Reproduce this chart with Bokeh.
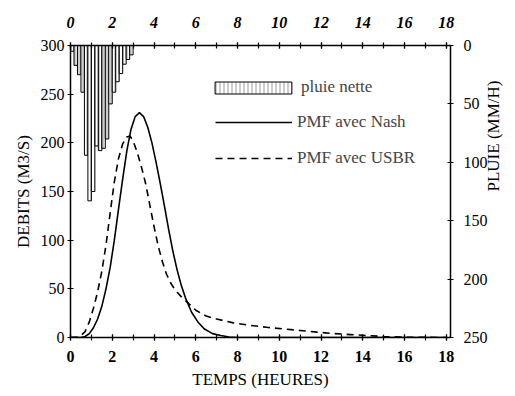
import math
from bokeh.plotting import figure
from bokeh.models import Range1d, LinearAxis, FixedTicker, Legend, LegendItem
from bokeh.embed import file_html
from bokeh.resources import INLINE

# ---- data ----
# net rainfall hyetograph, 10-minute blocks (hours), intensity in mm/h
rain_start = [0.0, 0.167, 0.333, 0.5, 0.667, 0.833, 1.0, 1.167, 1.333,
              1.5, 1.667, 1.833, 2.0, 2.167, 2.333, 2.5, 2.667, 2.833]
rain_end = [0.167, 0.333, 0.5, 0.667, 0.833, 1.0, 1.167, 1.333, 1.5,
            1.667, 1.833, 2.0, 2.167, 2.333, 2.5, 2.667, 2.833, 3.0]
rain_mmh = [5, 17, 25, 40, 94, 133, 125, 86, 90, 88, 80, 50, 40, 31, 24, 16, 12, 8]

# PMF hydrograph, Nash model (hours, m3/s)
t_nash = [0.0, 0.5, 0.7, 0.9, 1.1, 1.3, 1.5, 1.7, 1.9, 2.1, 2.3, 2.5, 2.7,
          2.9, 3.1, 3.3, 3.5, 3.7, 3.9, 4.1, 4.3, 4.5, 4.7, 4.9, 5.1, 5.3,
          5.5, 5.8, 6.1, 6.4, 6.8, 7.2, 7.6, 8.0, 18.0]
q_nash = [0, 0, 1, 4, 10, 19, 32, 50, 72, 100, 132, 163, 192,
          214, 227, 231, 227, 216, 200, 180, 158, 135, 111, 89, 70, 54,
          41, 26, 16, 9, 4, 2, 0.5, 0, 0]

# PMF hydrograph, USBR model (hours, m3/s)
t_usbr = [0.0, 0.3, 0.5, 0.7, 0.9, 1.1, 1.3, 1.5, 1.7, 1.9, 2.1, 2.3, 2.5,
          2.7, 2.85, 3.0, 3.2, 3.4, 3.6, 3.8, 4.0, 4.2, 4.4, 4.6, 4.8, 5.0,
          5.3, 5.6, 6.0, 6.5, 7.0, 7.8, 8.6, 9.4, 10.2, 11.0, 11.8, 12.6,
          13.4, 14.2, 15.0, 16.0, 18.0]
q_usbr = [0, 0.5, 2, 6, 16, 30, 47, 68, 95, 128, 160, 184, 199,
          206, 207, 202, 190, 175, 158, 136, 114, 94, 78, 65, 56, 49,
          42, 36, 28, 22, 19, 15, 12.5, 10.5, 8.8, 7.2, 5.5, 4,
          3, 2, 1, 0.3, 0]

x_ticks = [0, 2, 4, 6, 8, 10, 12, 14, 16, 18]
x_minor = [0, 1, 2, 3, 4, 5, 6, 7, 8, 9, 10, 11, 12, 13, 14, 15, 16, 17, 18]
q_ticks = [0, 50, 100, 150, 200, 250, 300]
r_ticks = [0, 50, 100, 150, 200, 250]

FONT = "Liberation Serif"

p = figure(width=515, height=396, output_backend="svg", toolbar_location=None,
           x_range=Range1d(0, 18.2), y_range=Range1d(0, 300),
           min_border_left=70, min_border_right=64, min_border_top=45,
           min_border_bottom=59)
p.extra_y_ranges = {"rain": Range1d(250, 0)}
p.xgrid.visible = False
p.ygrid.visible = False
p.outline_line_color = None
p.background_fill_color = "white"
p.border_fill_color = "white"

def style(ax, size="16px", style_="normal"):
    ax.axis_line_color = "black"
    ax.axis_line_width = 1.5
    ax.major_tick_line_color = "black"
    ax.minor_tick_line_color = "black"
    ax.major_tick_line_width = 1.2
    ax.minor_tick_line_width = 1.2
    ax.major_tick_in = 3
    ax.major_tick_out = 3
    ax.minor_tick_in = 3
    ax.minor_tick_out = 3
    ax.major_label_text_font = FONT
    ax.major_label_text_font_size = size
    ax.major_label_text_font_style = style_
    ax.major_label_text_color = "black"
    ax.axis_label_text_font = FONT
    ax.axis_label_text_font_size = "17px"
    ax.axis_label_text_font_style = "normal"
    ax.axis_label_text_color = "black"

# bottom axis
xb = p.xaxis[0]
xb.ticker = FixedTicker(ticks=x_ticks, minor_ticks=x_minor)
style(xb, style_="bold")
xb.axis_label = "TEMPS (HEURES)"
xb.major_label_standoff = 10
xb.axis_label_standoff = 5

# left axis
yl = p.yaxis[0]
yl.ticker = FixedTicker(ticks=q_ticks, minor_ticks=[])
style(yl)
yl.axis_label = "DEBITS (M3/S)"
yl.major_label_standoff = 3
yl.axis_label_standoff = 5

# top axis
xt = LinearAxis(ticker=FixedTicker(ticks=x_ticks, minor_ticks=x_minor))
style(xt, style_="bold italic")
xt.major_label_standoff = 15
p.add_layout(xt, "above")

# right axis (rain, inverted)
yr = LinearAxis(y_range_name="rain", ticker=FixedTicker(ticks=r_ticks, minor_ticks=[]))
style(yr)
yr.axis_label = "PLUIE (MM/H)"
yr.axis_label_orientation = math.pi / 2
yr.major_label_standoff = 10
yr.axis_label_standoff = 3
p.add_layout(yr, "right")

# hyetograph
bars = p.quad(left=rain_start, right=rain_end, top=[0] * len(rain_mmh), bottom=rain_mmh,
              y_range_name="rain", fill_color="white", line_color="black", line_width=1,
              hatch_pattern="vertical_line", hatch_scale=4, hatch_weight=0.6,
              hatch_color="#555555")

# hydrographs
l_nash = p.line(t_nash, q_nash, line_color="black", line_width=1.6)
l_usbr = p.line(t_usbr, q_usbr, line_color="black", line_width=1.6, line_dash="7 5")

leg_a = Legend(items=[LegendItem(label="pluie nette", renderers=[bars])],
               location=(135, 240), glyph_width=96, glyph_height=15, label_height=15,
               label_standoff=-4, padding=0, margin=0, border_line_color=None,
               background_fill_alpha=0, label_text_font=FONT, label_text_font_size="17px")
leg_b = Legend(items=[LegendItem(label="PMF avec Nash", renderers=[l_nash]),
                      LegendItem(label="PMF avec USBR", renderers=[l_usbr])],
               location=(145, 169), glyph_width=77, glyph_height=16, label_height=16,
               spacing=16, label_standoff=5, padding=0, margin=0, border_line_color=None,
               background_fill_alpha=0, label_text_font=FONT, label_text_font_size="17px")
p.add_layout(leg_a, "center")
p.add_layout(leg_b, "center")

open("out.html", "w").write(file_html(p, INLINE))
